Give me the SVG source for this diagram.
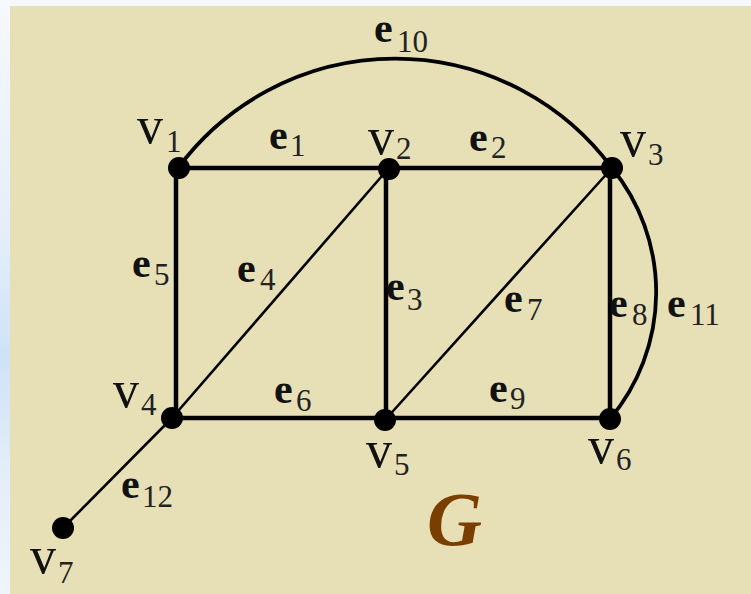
<svg xmlns="http://www.w3.org/2000/svg" width="751" height="594" viewBox="0 0 751 594">
<defs>
<linearGradient id="side" x1="0" y1="0" x2="0" y2="1">
<stop offset="0" stop-color="#f6f9fd"/>
<stop offset="0.4" stop-color="#e3eefa"/>
<stop offset="0.6" stop-color="#cfe2f6"/>
<stop offset="0.8" stop-color="#e3eef9"/>
<stop offset="1" stop-color="#eef5fc"/>
</linearGradient>
<style>
.thick{stroke:#000;stroke-width:4.5;fill:none}
.thin{stroke:#000;stroke-width:2.6;fill:none}
.arc{stroke:#000;stroke-width:3.8;fill:none}
.node{fill:#000}
.vl{font-family:"Liberation Serif","Times New Roman",serif;font-size:52px;fill:#111}
.el{font-family:"Liberation Serif","Times New Roman",serif;font-size:42px;font-weight:bold;fill:#111}
.sub{font-family:"Liberation Serif","Times New Roman",serif;font-size:31px;font-weight:normal;fill:#222}
.title{font-family:"Liberation Serif","Times New Roman",serif;font-size:76px;font-weight:bold;font-style:italic;fill:#7a3f00}
</style>
</defs>
<rect x="0" y="0" width="751" height="594" fill="#f4f8fc"/>
<rect x="0" y="0" width="10" height="594" fill="url(#side)"/>
<rect x="10" y="6" width="741" height="588" fill="#e7e0b7"/>
<g id="connectors">
<path id="e10" class="arc" d="M178,168 A270,270 0 0 1 612,168"/>
<path id="e11" class="arc" d="M612,168 A197,197 0 0 1 610,419"/>
<line id="e1" class="thick" x1="178" y1="168" x2="388" y2="168"/>
<line id="e2" class="thick" x1="388" y1="168" x2="612" y2="168"/>
<line id="e5" class="thick" x1="176" y1="168" x2="176" y2="418"/>
<line id="e3" class="thick" x1="386" y1="168" x2="386" y2="418"/>
<line id="e8" class="thick" x1="610" y1="168" x2="610" y2="419"/>
<line id="e6" class="thick" x1="172" y1="418" x2="385" y2="418"/>
<line id="e9" class="thick" x1="385" y1="418" x2="610" y2="418"/>
<line id="e4" class="thin" x1="172" y1="418" x2="388" y2="169"/>
<line id="e7" class="thin" x1="385" y1="420" x2="612" y2="168"/>
<line id="e12" class="thin" x1="172" y1="418" x2="63" y2="528"/>
</g>
<g id="v1"><circle class="node" cx="179" cy="168" r="11"/><text class="vl" x="137" y="143">v<tspan class="sub" x="166" y="152">1</tspan></text></g>
<g id="v2"><circle class="node" cx="389" cy="169" r="11"/><text class="vl" x="368" y="154">v<tspan class="sub" x="396" y="159">2</tspan></text></g>
<g id="v3"><circle class="node" cx="612" cy="168" r="11"/><text class="vl" x="620" y="156">v<tspan class="sub" x="648" y="165">3</tspan></text></g>
<g id="v4"><circle class="node" cx="172" cy="418" r="11"/><text class="vl" x="113" y="407">v<tspan class="sub" x="141" y="415">4</tspan></text></g>
<g id="v5"><circle class="node" cx="385" cy="420" r="11"/><text class="vl" x="366" y="467">v<tspan class="sub" x="394" y="475">5</tspan></text></g>
<g id="v6"><circle class="node" cx="610" cy="419" r="11"/><text class="vl" x="588" y="463">v<tspan class="sub" x="616" y="470">6</tspan></text></g>
<g id="v7"><circle class="node" cx="63" cy="528" r="11"/><text class="vl" x="30" y="573">v<tspan class="sub" x="58" y="583">7</tspan></text></g>
<g id="labels">
<text class="el" x="374" y="42">e<tspan class="sub" x="397" y="52">10</tspan></text>
<text class="el" x="269" y="149">e<tspan class="sub" x="290" y="156">1</tspan></text>
<text class="el" x="469" y="151">e<tspan class="sub" x="491" y="158">2</tspan></text>
<text class="el" x="386" y="300">e<tspan class="sub" x="407" y="310">3</tspan></text>
<text class="el" x="237" y="282">e<tspan class="sub" x="260" y="290">4</tspan></text>
<text class="el" x="132" y="277">e<tspan class="sub" x="154" y="285">5</tspan></text>
<text class="el" x="274" y="403">e<tspan class="sub" x="296" y="411">6</tspan></text>
<text class="el" x="504" y="312">e<tspan class="sub" x="527" y="320">7</tspan></text>
<text class="el" x="609" y="317">e<tspan class="sub" x="632" y="325">8</tspan></text>
<text class="el" x="489" y="402">e<tspan class="sub" x="510" y="409">9</tspan></text>
<text class="el" x="667" y="317">e<tspan class="sub" x="690" y="325">11</tspan></text>
<text class="el" x="121" y="498">e<tspan class="sub" x="142" y="507">12</tspan></text>
<text class="title" x="427" y="545">G</text>
</g>
</svg>
